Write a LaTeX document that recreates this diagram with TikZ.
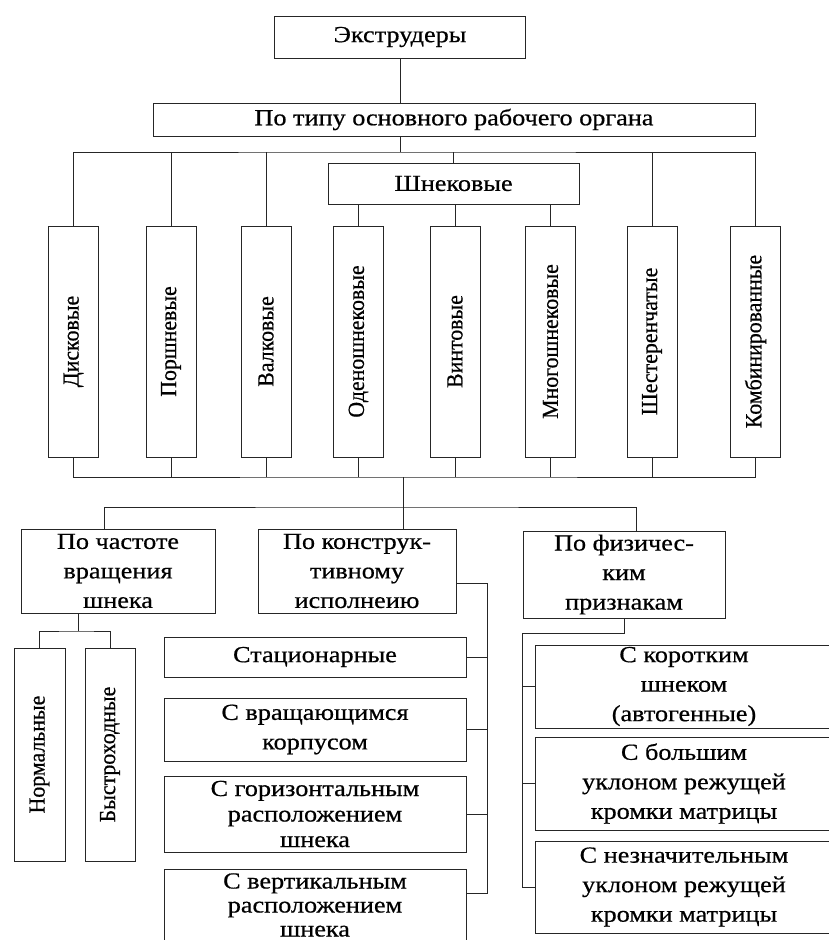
\documentclass[tikz,border=0pt]{standalone}
\usepackage{fontspec}
\setmainfont[FakeStretch=1.14, FakeBold=0.6]{Liberation Serif}
\newfontfamily\vertfont[FakeStretch=0.95, FakeBold=0.6]{Liberation Serif}
\definecolor{inkgray}{rgb}{0.15,0.15,0.15}

\begin{document}
\begin{tikzpicture}[x=1pt,y=-1pt,
    catbox/.style={draw=inkgray, line width=1pt, inner sep=0pt, align=center, font=\fontsize{23}{29.5}\selectfont},
    tightbox/.style={catbox, font=\fontsize{23}{25.5}\selectfont},
    vertbox/.style={draw=inkgray, line width=1pt, inner sep=0pt, minimum width=50pt, minimum height=231pt, font=\vertfont\fontsize{23}{26}\selectfont},
    link/.style={draw=inkgray, line width=1pt}]
    \useasboundingbox (0,0) rectangle (829,940);

    % Top levels
    \node[catbox, minimum width=251pt, minimum height=42pt] (ext) at (400,37) {Экструдеры};
    \node[catbox, minimum width=602pt, minimum height=33pt] (type) at (454,119.5) {По типу основного рабочего органа};
    \node[catbox, minimum width=251pt, minimum height=41pt] (shnek) at (453.5,183.5) {Шнековые};

    % Vertical boxes
    \foreach \nm/\xpos/\txt in {v1/73.5/Дисковые, v2/171/Поршневые, v3/266/Валковые, v4/358.5/Оденошнековые,
        v5/455/Винтовые, v6/550.5/Многошнековые, v7/652/Шестеренчатые, v8/755.5/Комбинированные}
        \node[vertbox] (\nm) at (\xpos,341.5) {\rotatebox{90}{\txt}};

    % Upper connectors
    \coordinate (busA) at (400,152);
    \draw[link] (ext.south) -- (type.north -| ext.south);
    \draw[link] (type.south -| busA) -- (busA);
    \draw[link] (v1.north) |- (busA) -| (v8.north);
    \foreach \i in {2,3,7} \draw[link] (v\i.north) -- (v\i.north |- busA);
    \draw[link] (shnek.north) -- (shnek.north |- busA);
    \foreach \i in {4,5,6} \draw[link] (v\i.north) -- (v\i.north |- shnek.south);

    % Second classification
    \node[catbox, minimum width=194pt, minimum height=84pt] (freq) at (118,571) {По частоте\\вращения\\шнека};
    \node[catbox, minimum width=198pt, minimum height=84pt] (constr) at (357,571) {По конструк-\\тивному\\исполнеию};
    \node[catbox, minimum width=202pt, minimum height=87pt] (phys) at (624,574.5) {По физичес-\\ким\\признакам};

    \coordinate (busB) at (403,477);
    \coordinate (busC) at (403,507);
    \draw[link] (v1.south) |- (busB) -| (v8.south);
    \foreach \i in {2,...,7} \draw[link] (v\i.south) -- (v\i.south |- busB);
    \draw[link] (busB) -- (busC);
    \draw[link] ([xshift=-14pt]freq.north) |- (busC) -| ([xshift=12pt]phys.north);
    \draw[link] (constr.north -| busC) -- (busC);

    % Speed of the screw
    \node[vertbox, minimum width=51pt, minimum height=213pt] (norm) at (39.5,754.5) {\rotatebox{90}{Нормальные}};
    \node[vertbox, minimum height=213pt] (fast) at (110,754.5) {\rotatebox{90}{Быстроходные}};
    \coordinate (fhub) at (78,631);
    \draw[link] (freq.south -| fhub) -- (fhub);
    \draw[link] (norm.north) |- (fhub) -| (fast.north);

    % Design
    \node[catbox, minimum width=302pt, minimum height=40pt] (stat) at (315,657) {Стационарные};
    \node[catbox, minimum width=302pt, minimum height=63pt] (rot) at (315,729.5) {С вращающимся\\корпусом};
    \node[tightbox, minimum width=302pt, minimum height=76pt] (hor) at (315,814) {С горизонтальным\\расположением\\шнека};
    \node[tightbox, font=\fontsize{23}{24}\selectfont, minimum width=302pt, minimum height=72pt] (vert) at (315,905) {С вертикальным\\расположением\\шнека};
    \coordinate (chub) at (487,583);
    \coordinate (ctail) at (487,893);
    \draw[link] (constr.east |- chub) -- (chub);
    \foreach \b in {stat,rot,hor} \draw[link] (\b.east) -| (chub);
    \draw[link] (ctail -| vert.east) -- (ctail) -- (chub);

    % Physical features
    \node[catbox, minimum width=298pt, minimum height=83pt] (shortb) at (684,686.5) {С коротким\\шнеком\\(автогенные)};
    \node[catbox, minimum width=298pt, minimum height=93pt] (bigb) at (684,783.5) {С большим\\уклоном режущей\\кромки матрицы};
    \node[catbox, minimum width=298pt, minimum height=92pt] (smallb) at (684,887) {С незначительным\\уклоном режущей\\кромки матрицы};
    \coordinate (phub) at (522,633);
    \draw[link] (phys.south) |- (phub);
    \foreach \b in {shortb,bigb,smallb} \draw[link] (\b.west) -| (phub);
\end{tikzpicture}
\end{document}
